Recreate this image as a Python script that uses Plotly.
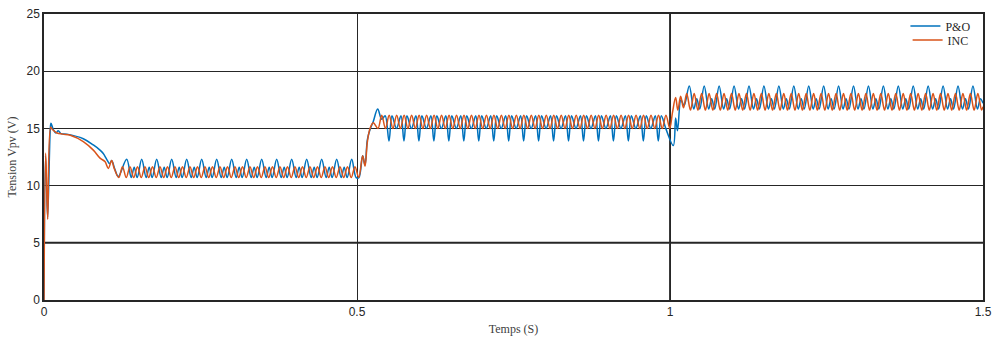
import plotly.graph_objects as go

# ---------------- data ----------------
# P&O (blue) start-up transient
po_start_t = [0.0, 0.0025, 0.0058, 0.0100, 0.0112, 0.0149, 0.0190, 0.0228, 0.0270, 0.0363,
              0.0628, 0.0788, 0.0895, 0.0947, 0.1002, 0.1050, 0.1081, 0.1134, 0.1187]
po_start_v = [0.0, 12.6, 7.2, 14.9, 15.45, 14.9, 14.6, 14.8, 14.55, 14.5,
              14.1, 13.55, 13.1, 12.8, 12.3, 11.9, 12.2, 11.4, 10.8]
# P&O steady cycles: anchor time, period, phases of the extrema in a cycle, extrema, end time
po_seg1 = dict(anchor=0.1321, period=0.02396, phases=[0.0, 0.3, 0.5, 0.7],
               values=[12.3, 10.7, 11.6, 10.7], end=0.4990)
po_tr1_t = [0.5030, 0.5090, 0.5128, 0.5165, 0.5208, 0.5260, 0.5330, 0.5395, 0.5450]
po_tr1_v = [10.7, 12.6, 11.8, 14.0, 14.9, 15.6, 16.7, 15.8, 16.1]
po_seg2 = dict(anchor=0.5511, period=0.0239, phases=[0.0, 0.2, 0.5, 0.8],
               values=[13.9, 16.1, 15.0, 16.1], end=1.0000)
po_tr2_t = [1.0053, 1.0090, 1.0120, 1.0175, 1.0225]
po_tr2_v = [13.5, 15.9, 14.8, 17.5, 17.0]
po_seg3 = dict(anchor=1.0308, period=0.02385, phases=[0.0, 0.3, 0.5, 0.7],
               values=[18.7, 16.7, 17.6, 16.7], end=1.4999)
po_end_t = [1.5]
po_end_v = [17.2]

# INC (orange) start-up transient
inc_start_t = [0.0, 0.0027, 0.0059, 0.0107, 0.0135, 0.0207, 0.0300, 0.0420, 0.0628, 0.0788,
               0.0895, 0.0974, 0.1028, 0.1081, 0.1118]
inc_start_v = [0.0, 12.85, 7.05, 15.1, 14.9, 14.6, 14.5, 14.4, 13.85, 13.1,
               12.4, 12.1, 11.5, 12.2, 11.55]
inc_seg1 = dict(anchor=0.1194, period=0.01198, phases=[0.0, 0.5],
                values=[10.7, 11.65], end=0.5035)
inc_tr1_t = [0.5090, 0.5128, 0.5165, 0.5208, 0.5260]
inc_tr1_v = [12.6, 11.7, 13.8, 15.0, 15.5]
inc_seg2 = dict(anchor=0.5335, period=0.01195, phases=[0.0, 0.5],
                values=[15.0, 16.15], end=1.0000)
inc_tr2_t = [1.0040, 1.0090, 1.0125, 1.0170, 1.0215]
inc_tr2_v = [16.4, 17.7, 16.6, 17.8, 16.8]
inc_seg3 = dict(anchor=1.0267, period=0.011925, phases=[0.0, 0.5],
                values=[18.05, 16.6], end=1.4999)
inc_end_t = [1.5]
inc_end_v = [16.9]

x_ticks = [0, 0.5, 1, 1.5]
x_ticklabels = ["0", "0.5", "1", "1.5"]
y_ticks = [0, 5, 10, 15, 20, 25]
y_ticklabels = ["0", "5", "10", "15", "20", "25"]


def cycles(seg):
    t, v = [], []
    k = 0
    while True:
        for p, val in zip(seg["phases"], seg["values"]):
            tt = seg["anchor"] + (k + p) * seg["period"]
            if tt >= seg["end"]:
                return t, v
            t.append(tt)
            v.append(val)
        k += 1


def build(parts):
    t, v = [], []
    for pt, pv in parts:
        t += pt
        v += pv
    return t, v


po_t, po_v = build([(po_start_t, po_start_v), cycles(po_seg1), (po_tr1_t, po_tr1_v),
                    cycles(po_seg2), (po_tr2_t, po_tr2_v), cycles(po_seg3),
                    (po_end_t, po_end_v)])
inc_t, inc_v = build([(inc_start_t, inc_start_v), cycles(inc_seg1), (inc_tr1_t, inc_tr1_v),
                      cycles(inc_seg2), (inc_tr2_t, inc_tr2_v), cycles(inc_seg3),
                      (inc_end_t, inc_end_v)])

fig = go.Figure()
fig.add_trace(go.Scatter(x=po_t, y=po_v, mode="lines", name="P&O", legend="legend",
                         line=dict(color="#0072BD", width=1.5, shape="spline", smoothing=1.0)))
fig.add_trace(go.Scatter(x=inc_t, y=inc_v, mode="lines", name="INC", legend="legend2",
                         line=dict(color="#D95319", width=1.5, shape="spline", smoothing=1.0)))

# thicker grid lines seen in the reference
fig.add_hline(y=y_ticks[1], line=dict(color="#262626", width=2), layer="below")
fig.add_vline(x=x_ticks[2], line=dict(color="#3a3a3a", width=2), layer="below")

legend_style = dict(xanchor="right", yanchor="middle",
                    bgcolor="rgba(0,0,0,0)", borderwidth=0,
                    font=dict(family="Liberation Serif", size=12, color="#262626"),
                    itemwidth=30)
fig.update_layout(
    width=995, height=339,
    margin=dict(l=44, r=12, t=14, b=39, autoexpand=False),
    paper_bgcolor="white", plot_bgcolor="white",
    showlegend=True,
    legend=dict(x=0.993, y=0.958, **legend_style),
    legend2=dict(x=0.990, y=0.909, **legend_style),
)
fig.update_xaxes(range=[0, 1.5], tickvals=x_ticks, ticktext=x_ticklabels, automargin=False,
                 showgrid=True, gridcolor="#262626", gridwidth=1,
                 showline=True, linecolor="#262626", linewidth=1.5, mirror=True,
                 zeroline=False, ticks="",
                 tickfont=dict(family="Liberation Sans", size=12, color="#262626"),
                 title=dict(text="Temps (S)", standoff=6,
                            font=dict(family="Liberation Serif", size=12, color="#404040")))
fig.update_yaxes(range=[0, 25], tickvals=y_ticks, ticktext=y_ticklabels, automargin=False,
                 showgrid=True, gridcolor="#262626", gridwidth=1,
                 showline=True, linecolor="#262626", linewidth=1.5, mirror=True,
                 zeroline=False, ticks="",
                 tickfont=dict(family="Liberation Sans", size=12, color="#262626"),
                 title=dict(text="Tension Vpv (V)", standoff=7,
                            font=dict(family="Liberation Serif", size=12, color="#404040")))

fig.write_html("out.html")
